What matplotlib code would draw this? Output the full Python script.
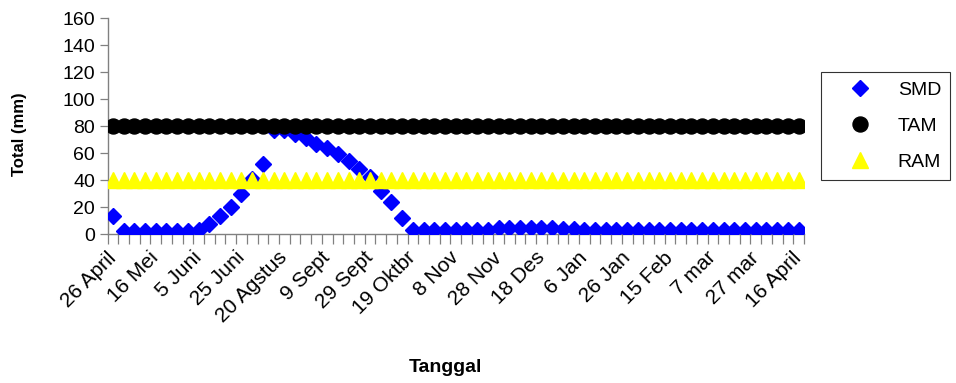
import matplotlib
matplotlib.use("Agg")
import matplotlib.pyplot as plt
import numpy as np

plt.rcParams['font.family'] = ['Liberation Sans', 'DejaVu Sans']

# Category labels shown on the x axis (every 4th category is labelled)
tick_labels = ["26 April", "16 Mei", "5 Juni", "25 Juni", "20 Agstus", "9 Sept",
               "29 Sept", "19 Oktbr", "8 Nov", "28 Nov", "18 Des", "6 Jan",
               "26 Jan", "15 Feb", "7 mar", "27 mar", "16 April"]
label_step = 4

# Soil moisture deficit per period (mm)
smd = [13.5, 2, 2, 2, 2, 2, 2, 2, 3, 7.5,
       13.5, 20, 30, 41, 52, 77, 77, 74, 71, 67,
       64, 59, 54, 48, 42, 32, 24, 12, 3, 3,
       3, 3, 3, 3, 3, 3, 4.5, 4.5, 4.5, 4.5,
       4.5, 4.5, 3.5, 3.5, 3, 3, 3, 3, 3, 3,
       3, 3, 3, 3, 3, 3, 3, 3, 3, 3,
       3, 3, 3, 3, 3]
tam_value = 80   # total available moisture
ram_value = 40   # readily available moisture

n = len(smd)
x = np.arange(1, n + 1)
tam = [tam_value] * n
ram = [ram_value] * n

axis_grey = '#808080'

fig = plt.figure(figsize=(9.56, 3.83), dpi=100)
ax = fig.add_axes([0.1125, 0.389, 0.7285, 0.564])

# series drawn in order: SMD underneath, then TAM, then RAM on top
ax.plot(x, smd, linestyle='none', marker='D', ms=8, color='#0000FF', label='SMD', zorder=3)
ax.plot(x, tam, linestyle='none', marker='o', ms=10.8, color='black', label='TAM', zorder=4)
ax.plot(x, ram, linestyle='none', marker='^', ms=11.5, color='#FFFF00', label='RAM', zorder=5)

ax.set_xlim(0.5, n + 0.5)
ax.set_ylim(0, 160)
ax.set_yticks(np.arange(0, 161, 20))

# ticks between categories, labels on every 4th category
ax.set_xticks(np.arange(0.5, n + 1, 1))
ax.set_xticklabels([])
ax.tick_params(axis='x', which='major', length=7, width=0.9, direction='out', color=axis_grey)
ax.set_xticks(x[::label_step], minor=True)
ax.set_xticklabels(tick_labels, minor=True, rotation=45, ha='right', va='center',
                   rotation_mode='anchor', fontsize=15)
ax.tick_params(axis='x', which='minor', length=0, pad=15)
ax.tick_params(axis='y', length=6, width=0.9, labelsize=14, pad=3, color=axis_grey)

for s in ['top', 'right']:
    ax.spines[s].set_visible(False)
for s in ['left', 'bottom']:
    ax.spines[s].set_linewidth(1.0)
    ax.spines[s].set_color(axis_grey)

fig.text(20 / 956, 1 - 134 / 383, 'Total (mm)', fontsize=12, fontweight='bold',
         rotation=90, ha='center', va='center')
fig.text(445 / 956, 1 - 368 / 383, 'Tanggal', fontsize=14, fontweight='bold',
         ha='center', va='center')

leg = fig.legend(loc='center', bbox_to_anchor=(885.5 / 956, 1 - 126 / 383),
                 handles=ax.get_lines(),
                 frameon=True, fancybox=False, edgecolor='black', fontsize=14,
                 labelspacing=0.95, handletextpad=0.4, borderpad=0.45,
                 handlelength=3.1, borderaxespad=0)
leg.get_frame().set_linewidth(0.8)

fig.savefig('out.png', dpi=100)
